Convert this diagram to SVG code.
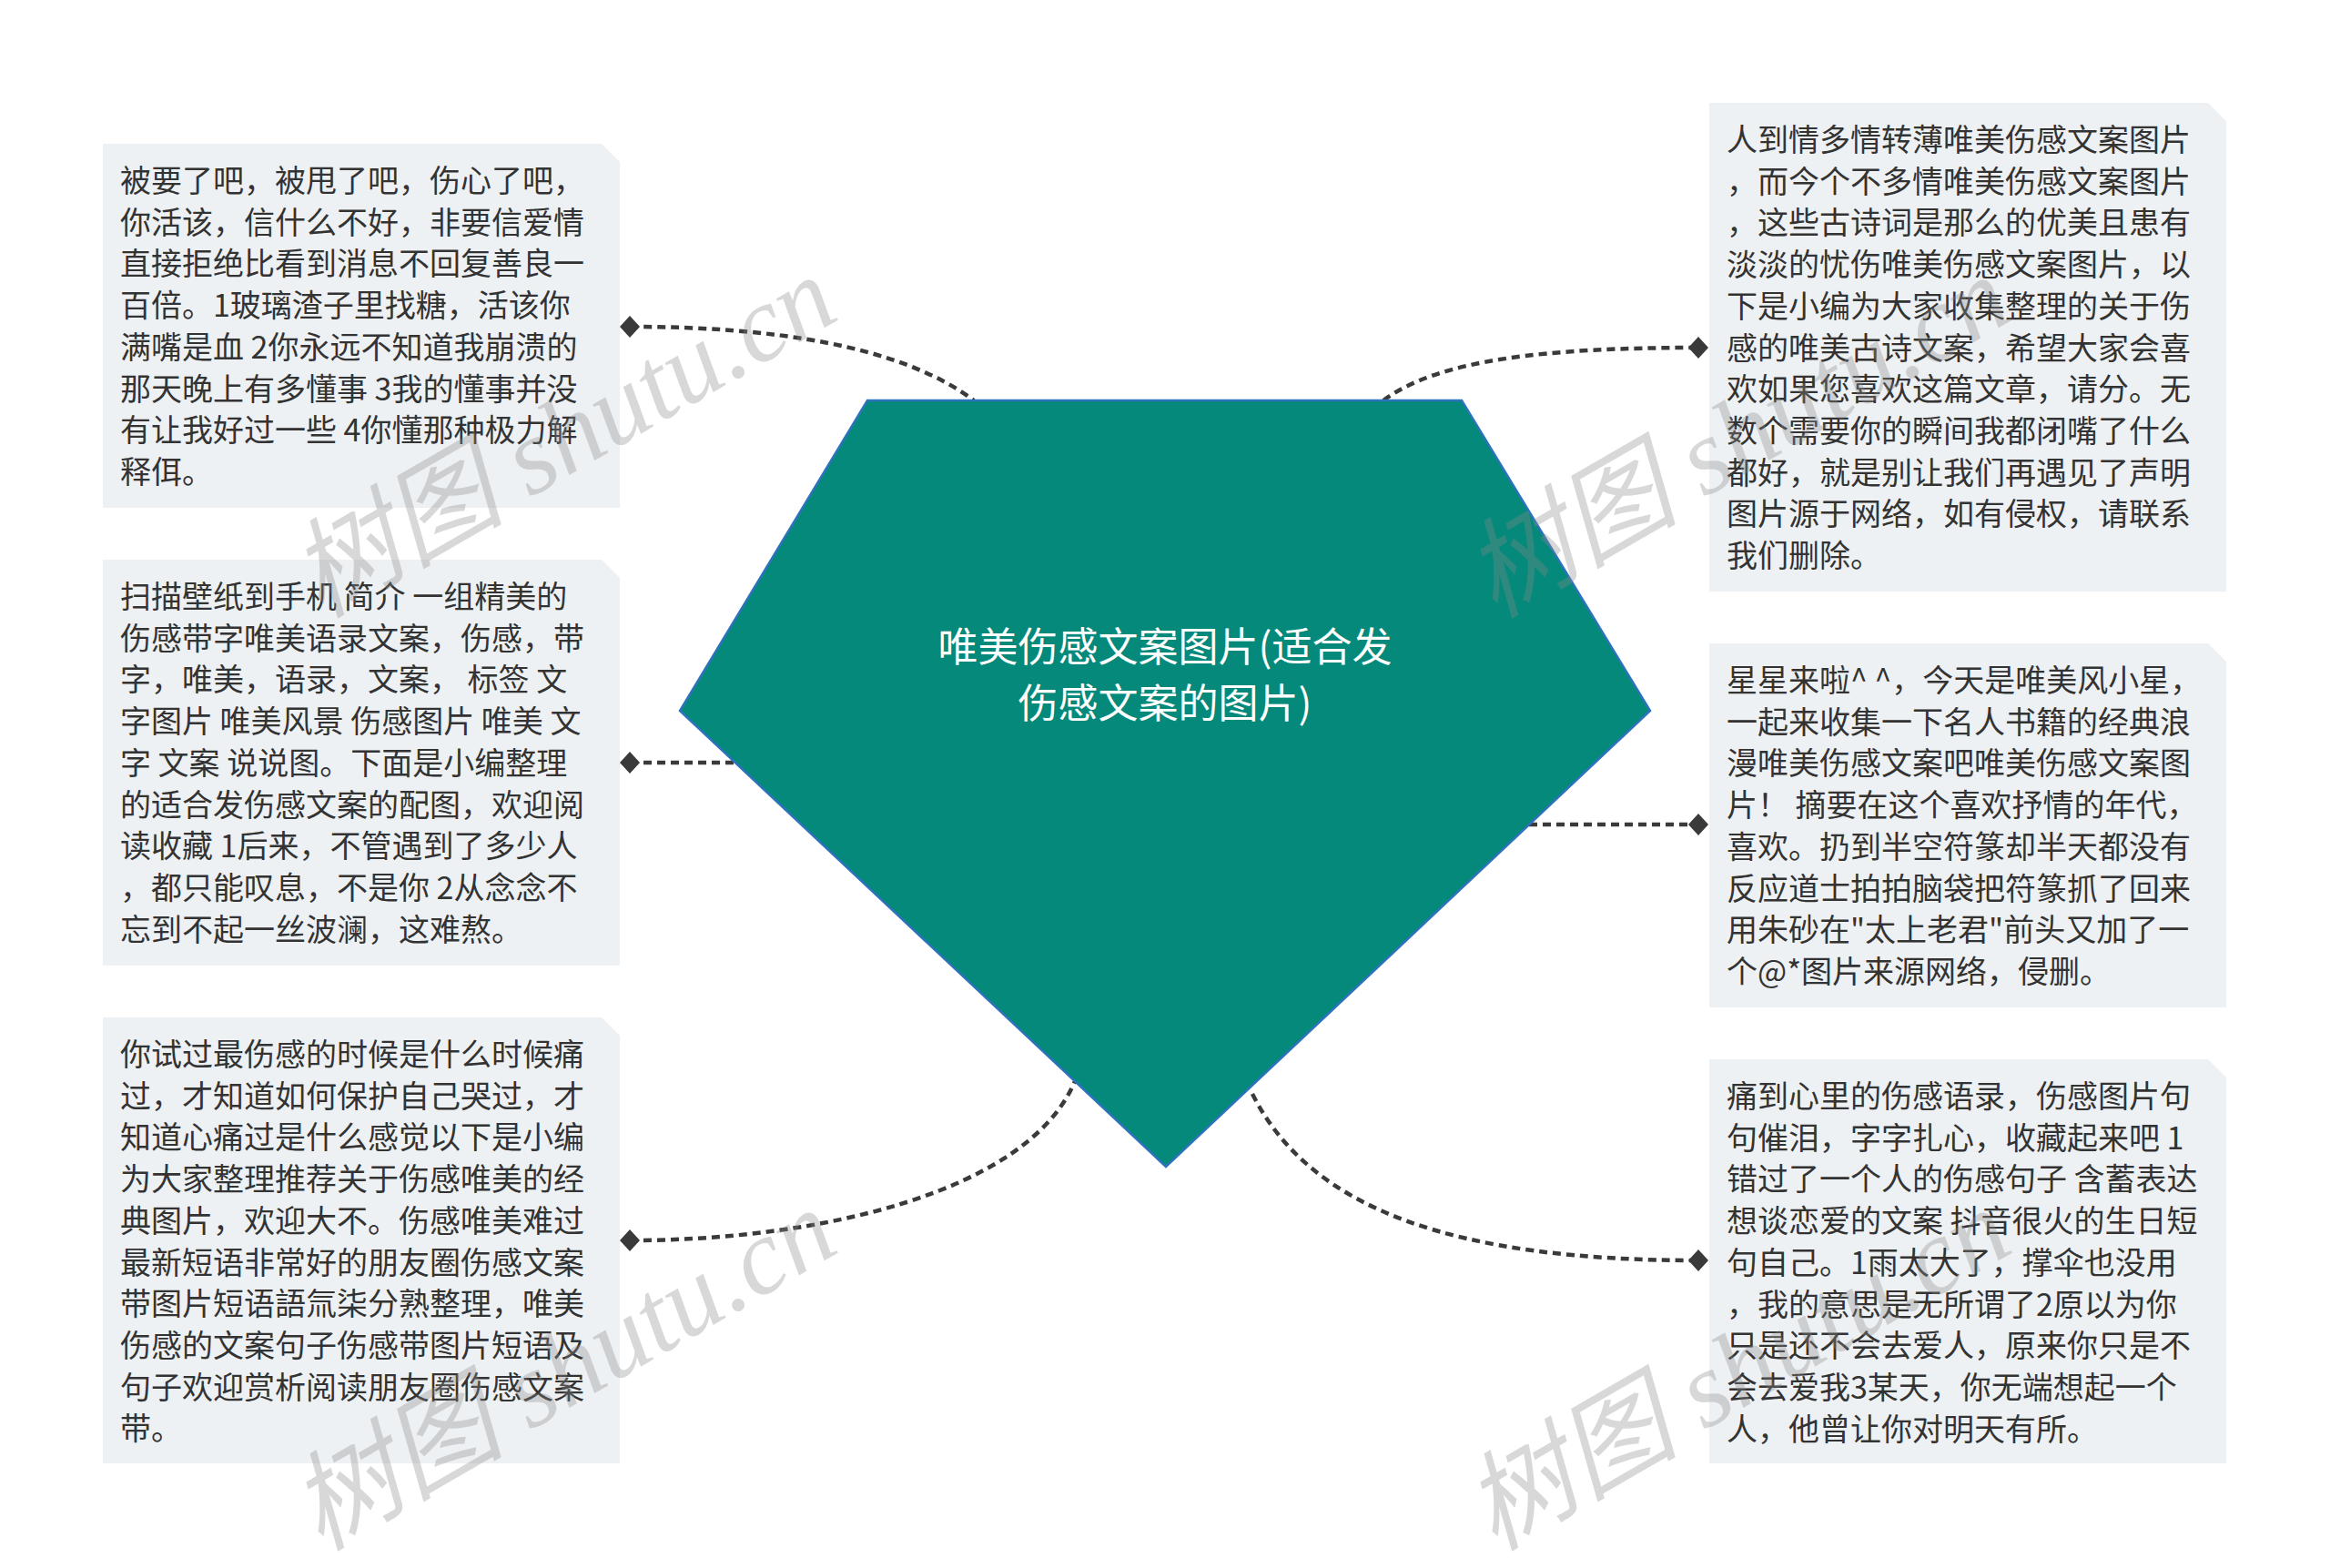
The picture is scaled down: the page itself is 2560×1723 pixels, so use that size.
<svg xmlns="http://www.w3.org/2000/svg" width="2560" height="1723" viewBox="0 0 2560 1723">
<defs>
<style>
.box{fill:#eef1f4}
.t{font-family:"Noto Sans CJK SC","Noto Sans",sans-serif;font-size:34px;fill:#333333}
.title{font-family:"Noto Sans CJK SC","Noto Sans",sans-serif;font-size:44px;fill:#ffffff;text-anchor:middle}
.conn{fill:none;stroke:#3a3a3a;stroke-width:4.5;stroke-dasharray:9 6}
.wm{font-family:"Liberation Serif","Noto Sans CJK SC",serif;font-style:italic;font-size:118px;fill:#8a8a8a;opacity:0.33}
</style>
<marker id="dia" viewBox="-12 -13 24 26" refX="0" refY="0" markerWidth="24" markerHeight="26" markerUnits="userSpaceOnUse" orient="auto">
<path d="M-11,0 L0,-12 L11,0 L0,12 Z" fill="#3a3a3a"/>
</marker>
</defs>
<rect width="2560" height="1723" fill="#ffffff"/>

<g id="connectors">
<path class="conn" d="M692,359 C850,359 990,380 1070,440" marker-start="url(#dia)"/>
<path class="conn" d="M692,838 L806,838" marker-start="url(#dia)"/>
<path class="conn" d="M692,1363 C900,1363 1130,1310 1181,1188" marker-start="url(#dia)"/>
<path class="conn" d="M1520,440 C1580,395 1700,382 1866,382" marker-end="url(#dia)"/>
<path class="conn" d="M1680,906 L1866,906" marker-end="url(#dia)"/>
<path class="conn" d="M1376,1202 C1440,1330 1600,1385 1866,1385" marker-end="url(#dia)"/>
</g>

<g id="center">
<polygon points="953,440 1606,440 1813,781 1281,1282 747,781" fill="#04897b" stroke="#2d72bd" stroke-width="2.5"/>
<text class="title" x="1280" y="727">唯美伤感文案图片(适合发</text>
<text class="title" x="1280" y="789">伤感文案的图片)</text>
</g>

<g id="node-l1">
<path class="box" d="M113,158 H661 L681,178 V558 H113 Z"/>
<text class="t">
<tspan x="132" y="211">被要了吧，被甩了吧，伤心了吧，</tspan>
<tspan x="132" dy="45.7">你活该，信什么不好，非要信爱情</tspan>
<tspan x="132" dy="45.7">直接拒绝比看到消息不回复善良一</tspan>
<tspan x="132" dy="45.7">百倍。1玻璃渣子里找糖，活该你</tspan>
<tspan x="132" dy="45.7">满嘴是血 2你永远不知道我崩溃的</tspan>
<tspan x="132" dy="45.7">那天晚上有多懂事 3我的懂事并没</tspan>
<tspan x="132" dy="45.7">有让我好过一些 4你懂那种极力解</tspan>
<tspan x="132" dy="45.7">释佴。</tspan>
</text>
</g>

<g id="node-l2">
<path class="box" d="M113,615 H661 L681,635 V1061 H113 Z"/>
<text class="t">
<tspan x="132" y="668">扫描壁纸到手机 简介 一组精美的</tspan>
<tspan x="132" dy="45.7">伤感带字唯美语录文案，伤感，带</tspan>
<tspan x="132" dy="45.7">字，唯美，语录，文案， 标签 文</tspan>
<tspan x="132" dy="45.7">字图片 唯美风景 伤感图片 唯美 文</tspan>
<tspan x="132" dy="45.7">字 文案 说说图。下面是小编整理</tspan>
<tspan x="132" dy="45.7">的适合发伤感文案的配图，欢迎阅</tspan>
<tspan x="132" dy="45.7">读收藏 1后来，不管遇到了多少人</tspan>
<tspan x="132" dy="45.7">，都只能叹息，不是你 2从念念不</tspan>
<tspan x="132" dy="45.7">忘到不起一丝波澜，这难熬。</tspan>
</text>
</g>

<g id="node-l3">
<path class="box" d="M113,1118 H661 L681,1138 V1608 H113 Z"/>
<text class="t">
<tspan x="132" y="1171">你试过最伤感的时候是什么时候痛</tspan>
<tspan x="132" dy="45.7">过，才知道如何保护自己哭过，才</tspan>
<tspan x="132" dy="45.7">知道心痛过是什么感觉以下是小编</tspan>
<tspan x="132" dy="45.7">为大家整理推荐关于伤感唯美的经</tspan>
<tspan x="132" dy="45.7">典图片，欢迎大不。伤感唯美难过</tspan>
<tspan x="132" dy="45.7">最新短语非常好的朋友圈伤感文案</tspan>
<tspan x="132" dy="45.7">带图片短语語氚柒分熟整理，唯美</tspan>
<tspan x="132" dy="45.7">伤感的文案句子伤感带图片短语及</tspan>
<tspan x="132" dy="45.7">句子欢迎赏析阅读朋友圈伤感文案</tspan>
<tspan x="132" dy="45.7">带。</tspan>
</text>
</g>

<g id="node-r1">
<path class="box" d="M1878,113 H2426 L2446,133 V650 H1878 Z"/>
<text class="t">
<tspan x="1897" y="166">人到情多情转薄唯美伤感文案图片</tspan>
<tspan x="1897" dy="45.7">，而今个不多情唯美伤感文案图片</tspan>
<tspan x="1897" dy="45.7">，这些古诗词是那么的优美且患有</tspan>
<tspan x="1897" dy="45.7">淡淡的忧伤唯美伤感文案图片，以</tspan>
<tspan x="1897" dy="45.7">下是小编为大家收集整理的关于伤</tspan>
<tspan x="1897" dy="45.7">感的唯美古诗文案，希望大家会喜</tspan>
<tspan x="1897" dy="45.7">欢如果您喜欢这篇文章，请分。无</tspan>
<tspan x="1897" dy="45.7">数个需要你的瞬间我都闭嘴了什么</tspan>
<tspan x="1897" dy="45.7">都好，就是别让我们再遇见了声明</tspan>
<tspan x="1897" dy="45.7">图片源于网络，如有侵权，请联系</tspan>
<tspan x="1897" dy="45.7">我们删除。</tspan>
</text>
</g>

<g id="node-r2">
<path class="box" d="M1878,707 H2426 L2446,727 V1107 H1878 Z"/>
<text class="t">
<tspan x="1897" y="760">星星来啦^ ^，今天是唯美风小星，</tspan>
<tspan x="1897" dy="45.7">一起来收集一下名人书籍的经典浪</tspan>
<tspan x="1897" dy="45.7">漫唯美伤感文案吧唯美伤感文案图</tspan>
<tspan x="1897" dy="45.7">片！ 摘要在这个喜欢抒情的年代，</tspan>
<tspan x="1897" dy="45.7">喜欢。扔到半空符篆却半天都没有</tspan>
<tspan x="1897" dy="45.7">反应道士拍拍脑袋把符篆抓了回来</tspan>
<tspan x="1897" dy="45.7">用朱砂在"太上老君"前头又加了一</tspan>
<tspan x="1897" dy="45.7">个@*图片来源网络，侵删。</tspan>
</text>
</g>

<g id="node-r3">
<path class="box" d="M1878,1164 H2426 L2446,1184 V1608 H1878 Z"/>
<text class="t">
<tspan x="1897" y="1217">痛到心里的伤感语录，伤感图片句</tspan>
<tspan x="1897" dy="45.7">句催泪，字字扎心，收藏起来吧 1</tspan>
<tspan x="1897" dy="45.7">错过了一个人的伤感句子 含蓄表达</tspan>
<tspan x="1897" dy="45.7">想谈恋爱的文案 抖音很火的生日短</tspan>
<tspan x="1897" dy="45.7">句自己。1雨太大了，撑伞也没用</tspan>
<tspan x="1897" dy="45.7">，我的意思是无所谓了2原以为你</tspan>
<tspan x="1897" dy="45.7">只是还不会去爱人，原来你只是不</tspan>
<tspan x="1897" dy="45.7">会去爱我3某天，你无端想起一个</tspan>
<tspan x="1897" dy="45.7">人，他曾让你对明天有所。</tspan>
</text>
</g>

<g id="watermarks">
<text class="wm" transform="translate(352,680) rotate(-30)">树图 shutu.cn</text>
<text class="wm" transform="translate(1642,680) rotate(-30)">树图 shutu.cn</text>
<text class="wm" transform="translate(352,1705) rotate(-30)">树图 shutu.cn</text>
<text class="wm" transform="translate(1642,1705) rotate(-30)">树图 shutu.cn</text>
</g>
</svg>
